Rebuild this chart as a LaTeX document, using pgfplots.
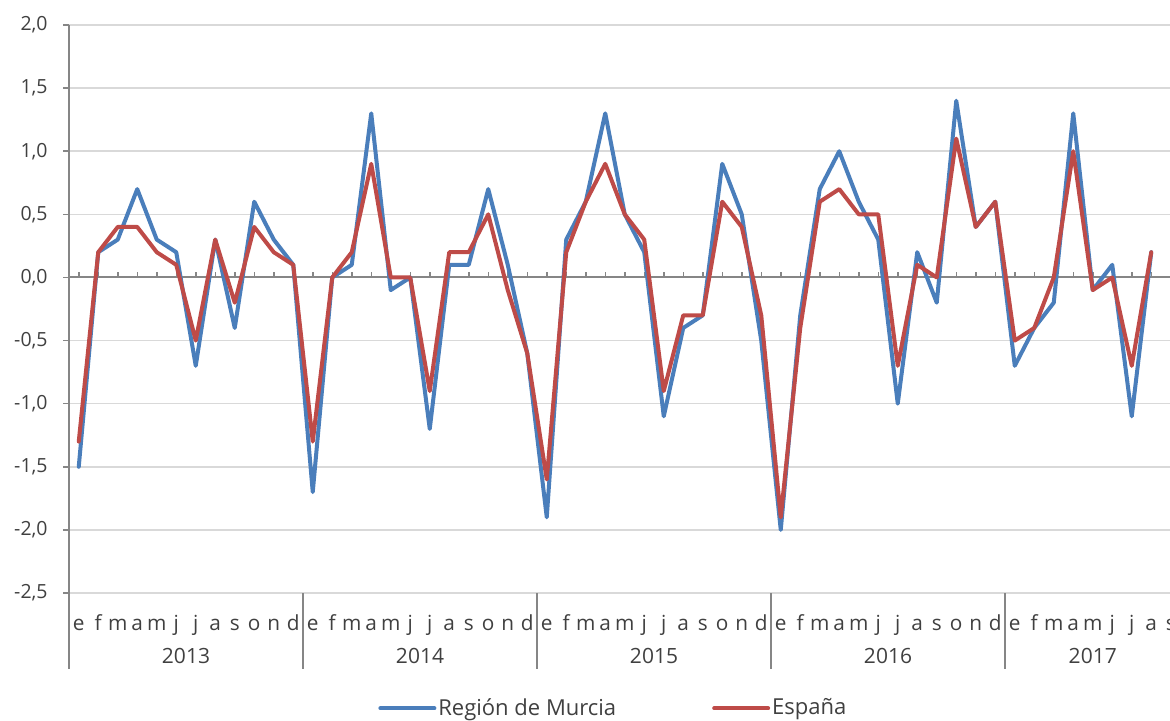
\documentclass[border=0pt]{standalone}
\usepackage{pgfplots}
\usepackage{pgfplotstable}
\pgfplotsset{compat=1.18}
\usepackage{fontspec}
\setmainfont{Open Sans}
\definecolor{murcia}{HTML}{4A7EBB}
\definecolor{espana}{HTML}{BE4B48}
\definecolor{txt}{HTML}{404040}
\definecolor{gridc}{HTML}{D9D9D9}
\definecolor{axisgray}{HTML}{868686}

\pgfplotstableread{
i murcia espana
0 -1.5 -1.3
1 0.2 0.2
2 0.3 0.4
3 0.7 0.4
4 0.3 0.2
5 0.2 0.1
6 -0.7 -0.5
7 0.3 0.3
8 -0.4 -0.2
9 0.6 0.4
10 0.3 0.2
11 0.1 0.1
12 -1.7 -1.3
13 0.0 0.0
14 0.1 0.2
15 1.3 0.9
16 -0.1 0.0
17 0.0 0.0
18 -1.2 -0.9
19 0.1 0.2
20 0.1 0.2
21 0.7 0.5
22 0.1 -0.1
23 -0.6 -0.6
24 -1.9 -1.6
25 0.3 0.2
26 0.6 0.6
27 1.3 0.9
28 0.5 0.5
29 0.2 0.3
30 -1.1 -0.9
31 -0.4 -0.3
32 -0.3 -0.3
33 0.9 0.6
34 0.5 0.4
35 -0.5 -0.3
36 -2.0 -1.9
37 -0.3 -0.4
38 0.7 0.6
39 1.0 0.7
40 0.6 0.5
41 0.3 0.5
42 -1.0 -0.7
43 0.2 0.1
44 -0.2 0.0
45 1.4 1.1
46 0.4 0.4
47 0.6 0.6
48 -0.7 -0.5
49 -0.4 -0.4
50 -0.2 0.0
51 1.3 1.0
52 -0.1 -0.1
53 0.1 0.0
54 -1.1 -0.7
55 0.2 0.2
}\datatable

\begin{document}
\begin{tikzpicture}
\begin{axis}[
  at={(34.5pt,63.5pt)}, anchor=south west,
  scale only axis, width=555.75pt, height=284pt,
  xmin=-0.5, xmax=56.5, ymin=-2.5, ymax=2,
  axis line style={draw=none},
  clip=false,
  ytick={-2.5,-2,-1.5,-1,-0.5,0,0.5,1,1.5,2},
  yticklabels={{-2,5},{-2,0},{-1,5},{-1,0},{-0,5},{0,0},{0,5},{1,0},{1,5},{2,0}},
  ytick pos=left,
  ymajorgrids, grid style={gridc, line width=0.75pt},
  ytick style={axisgray, line width=0.75pt},
  tick align=outside, major tick length=3pt,
  yticklabel style={font=\fontsize{9.75}{11}\selectfont, text=txt, anchor=east, inner sep=0pt, xshift=-7.5pt},
  xtick={0,...,56},
  xticklabels={e,f,m,a,m,j,j,a,s,o,n,d,e,f,m,a,m,j,j,a,s,o,n,d,e,f,m,a,m,j,j,a,s,o,n,d,e,f,m,a,m,j,j,a,s,o,n,d,e,f,m,a,m,j,j,a,s},
  xtick style={draw=none},
  xticklabel style={font=\fontsize{10.4}{12}\selectfont, text=txt, anchor=base, inner sep=0pt, yshift=-15.5pt},
  legend style={at={(0.278,-0.203)}, anchor=west, draw=none, fill=none,
    legend columns=2, inner sep=0pt, font=\fontsize{11}{13}\selectfont, text=txt,
    /tikz/every even column/.append style={column sep=47pt},
    nodes={inner sep=1pt}},
  legend image code/.code={\draw[#1] (0pt,0pt) -- (27pt,0pt);},
]
\draw[axisgray, line width=1pt] (axis cs:-0.5,0) -- (axis cs:56.5,0);
\pgfplotsinvokeforeach{0,...,56}{\draw[axisgray, line width=0.75pt] (axis cs:#1,0) -- ([yshift=2.5pt]axis cs:#1,0);}
\draw[axisgray, line width=0.75pt] (axis cs:-0.5,2) -- ([yshift=-38pt]axis cs:-0.5,-2.5);
\pgfplotsinvokeforeach{11.5,23.5,35.5,47.5}{\draw[axisgray, line width=0.75pt] (axis cs:#1,-2.5) -- ([yshift=-38pt]axis cs:#1,-2.5);}
\node[anchor=base, font=\fontsize{10.5}{12}\selectfont, text=txt] at ([yshift=-35pt]axis cs:5.5,-2.5) {2013};
\node[anchor=base, font=\fontsize{10.5}{12}\selectfont, text=txt] at ([yshift=-35pt]axis cs:17.5,-2.5) {2014};
\node[anchor=base, font=\fontsize{10.5}{12}\selectfont, text=txt] at ([yshift=-35pt]axis cs:29.5,-2.5) {2015};
\node[anchor=base, font=\fontsize{10.5}{12}\selectfont, text=txt] at ([yshift=-35pt]axis cs:41.5,-2.5) {2016};
\node[anchor=base, font=\fontsize{10.5}{12}\selectfont, text=txt] at ([yshift=-35pt]axis cs:52,-2.5) {2017};
\addplot[murcia, line width=2pt, line join=round, line cap=round] table[x=i, y=murcia] {\datatable};
\addlegendentry{Región de Murcia}
\addplot[espana, line width=2pt, line join=round, line cap=round] table[x=i, y=espana] {\datatable};
\addlegendentry{España}
\end{axis}
\pgfresetboundingbox
\useasboundingbox (0pt,0pt) rectangle (585pt,360pt);
\end{tikzpicture}
\end{document}
